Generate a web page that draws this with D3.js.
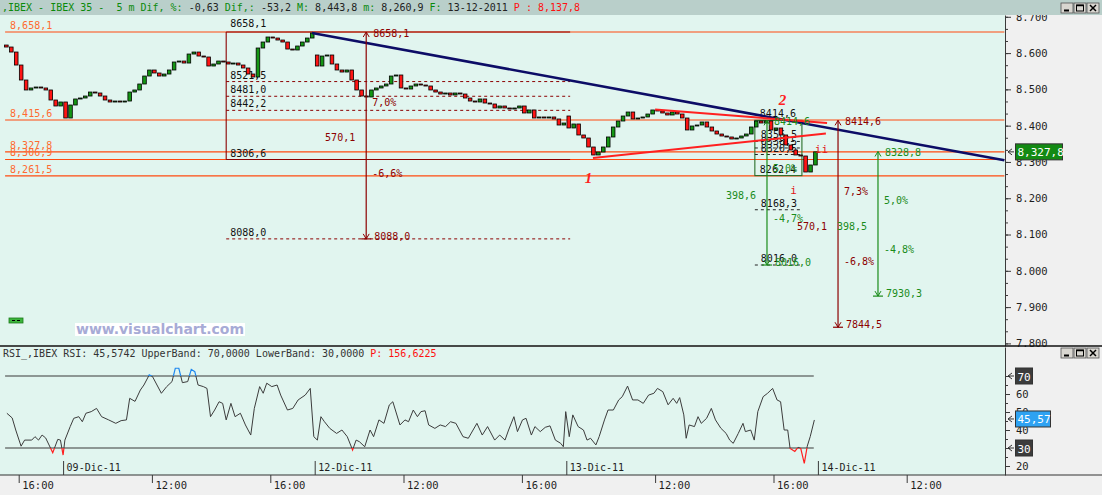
<!DOCTYPE html>
<html>
<head>
<meta charset="utf-8">
<script src="https://cdn.jsdelivr.net/npm/d3@7"></script>
<style>
  body { margin: 0; background: #f0f0f0; }
  svg { display: block; font-family: "DejaVu Sans Mono", monospace; font-size: 10px; }
</style>
</head>
<body>
<svg width="1102" height="495"></svg>
<script>
// ---------- data ----------
// x positions are trading-session hours counted from 08-Dic 16:00
var timeTicks = [0, 4.5, 8.5, 13, 17, 21.5, 25.5, 30];
var timeLabels = ["16:00", "12:00", "16:00", "12:00", "16:00", "12:00", "16:00", "12:00"];
var dateTicks = [1.5, 10, 18.5, 27];
var dateLabels = ["09-Dic-11", "12-Dic-11", "13-Dic-11", "14-Dic-11"];
var priceTicks = [7800, 7900, 8000, 8100, 8200, 8300, 8400, 8500, 8600, 8700];
var rsiTicks = [20, 30, 40, 50, 60, 70];

// 10-minute candles starting 08-Dic 15:30
var candleStart = -0.5, candleStep = 1 / 6;
var closes = [
  8616.7, 8602.9, 8567.1, 8525.8, 8498.3, 8503.8, 8506.5, 8503.8, 8498.3, 8470.7, 8454.2, 8465.2,
  8421.1, 8456.9, 8473.5, 8476.2, 8481.7, 8492.7, 8490.0, 8481.7, 8470.7, 8465.2, 8467.9, 8465.2,
  8467.9, 8492.7, 8498.3, 8514.8, 8536.8, 8553.4, 8545.1, 8536.8, 8542.3, 8553.4, 8575.4, 8578.1,
  8572.6, 8597.4, 8602.9, 8591.9, 8589.2, 8564.4, 8569.9, 8578.1, 8575.4, 8569.9, 8572.6, 8567.1,
  8558.9, 8542.3, 8534.1, 8614.0, 8630.5, 8644.3, 8641.5, 8636.0, 8630.5, 8611.2, 8608.5, 8619.5,
  8630.5, 8641.5, 8655.3,
  8564.4, 8591.9, 8594.7, 8569.9, 8553.4, 8547.8, 8553.4, 8525.8, 8498.3, 8481.7, 8479.0, 8498.3,
  8503.8, 8509.3, 8514.8, 8536.8, 8539.6, 8503.8, 8501.0, 8509.3, 8514.8, 8512.0, 8509.3, 8498.3,
  8492.7, 8487.2, 8490.0, 8484.5, 8490.0, 8487.2, 8476.2, 8467.9, 8465.2, 8473.5, 8462.4, 8459.7,
  8448.7, 8454.2, 8448.7, 8445.9, 8448.7, 8454.2, 8434.9, 8443.2, 8421.1, 8423.9, 8421.1, 8423.9,
  8418.4, 8401.8, 8407.3,
  8393.6, 8404.6, 8374.3, 8366.0, 8341.2, 8319.2, 8327.4, 8341.2, 8368.8, 8396.3, 8412.8, 8426.6,
  8437.6, 8418.4, 8421.1, 8423.9, 8432.1, 8443.2, 8440.4, 8434.9, 8429.4, 8437.6, 8432.1, 8421.1,
  8388.1, 8399.1, 8401.8, 8410.1, 8396.3, 8385.3, 8377.0, 8371.5, 8368.8, 8363.3, 8366.0, 8371.5,
  8377.0, 8396.3, 8412.8, 8407.3, 8413.0, 8388.1, 8393.6, 8374.3, 8346.7, 8332.9, 8319.2, 8316.4,
  8272.3, 8291.6, 8327.8
];
// session opens that gap away from the previous close: [candle index, open]
var gapOpens = [[0, 8622.2], [63, 8594.7], [114, 8426.6]];

var rsiPoints = [
  [-0.40, 49.3], [-0.22, 46.7], [-0.10, 40.0], [0.08, 31.0], [0.20, 34.4], [0.44, 34.4], [0.55, 36.3],
  [0.67, 34.4], [0.79, 37.2], [0.91, 35.6], [1.15, 27.4], [1.32, 34.8], [1.41, 34.4], [1.50, 26.1],
  [1.56, 34.4], [1.74, 41.9], [1.86, 46.5], [2.03, 47.4], [2.15, 44.6], [2.27, 49.3], [2.45, 50.2],
  [2.63, 52.0], [2.80, 47.4], [3.04, 45.6], [3.28, 43.7], [3.46, 45.2], [3.64, 45.6], [3.75, 57.6],
  [3.93, 55.9], [4.11, 62.2], [4.23, 65.0], [4.41, 70.6], [4.52, 69.7], [4.82, 60.4], [5.00, 64.1],
  [5.18, 66.9], [5.29, 74.3], [5.41, 74.3], [5.53, 66.3], [5.71, 66.9], [5.83, 73.7], [5.95, 72.4],
  [6.06, 65.0], [6.24, 64.1], [6.36, 63.1], [6.48, 47.4], [6.62, 51.1], [6.77, 55.7], [6.89, 54.8],
  [7.01, 45.6], [7.17, 54.8], [7.31, 47.4], [7.49, 49.3], [7.66, 42.8], [7.84, 37.2], [7.96, 52.0],
  [8.14, 64.1], [8.26, 60.4], [8.38, 66.0], [8.55, 64.1], [8.73, 65.0], [8.85, 59.4], [9.08, 51.1],
  [9.26, 52.0], [9.44, 56.7], [9.68, 59.4], [9.85, 63.1], [9.97, 36.3], [10.09, 34.4], [10.21, 47.4],
  [10.33, 44.6], [10.51, 40.9], [10.74, 38.1], [10.92, 40.0], [11.10, 36.3], [11.28, 28.9], [11.40, 34.4],
  [11.51, 33.5], [11.69, 30.7], [11.87, 40.0], [11.99, 36.3], [12.17, 45.6], [12.34, 43.7], [12.52, 53.9],
  [12.64, 55.7], [12.88, 42.8], [13.05, 45.6], [13.17, 44.6], [13.33, 51.1], [13.47, 47.4], [13.59, 50.2],
  [13.73, 50.7], [13.85, 42.8], [14.06, 40.9], [14.24, 42.8], [14.42, 41.9], [14.59, 44.6], [14.77, 43.7],
  [15.01, 36.3], [15.19, 35.4], [15.48, 43.7], [15.66, 37.2], [15.84, 41.9], [16.08, 34.4], [16.25, 37.2],
  [16.43, 34.4], [16.55, 40.0], [16.73, 47.4], [16.85, 39.1], [17.02, 45.6], [17.14, 46.5], [17.32, 37.2],
  [17.44, 41.9], [17.62, 39.1], [17.79, 41.5], [17.95, 42.3], [18.13, 34.4], [18.31, 32.6], [18.40, 30.7],
  [18.48, 50.2], [18.60, 36.3], [18.72, 48.4], [18.90, 41.9], [19.08, 40.0], [19.20, 34.4], [19.32, 35.4],
  [19.50, 31.7], [19.61, 36.3], [19.79, 45.6], [19.91, 51.1], [20.09, 51.1], [20.27, 56.7], [20.39, 58.5],
  [20.57, 64.4], [20.74, 56.7], [20.92, 56.7], [21.10, 54.8], [21.28, 59.4], [21.46, 60.4], [21.58, 63.1],
  [21.76, 61.3], [21.94, 54.0], [22.11, 57.6], [22.23, 54.8], [22.33, 58.0], [22.47, 48.4], [22.55, 35.4],
  [22.65, 42.8], [22.83, 41.9], [22.95, 47.4], [23.06, 43.7], [23.24, 46.5], [23.40, 52.0], [23.54, 45.6],
  [23.72, 41.0], [23.90, 38.1], [24.02, 34.4], [24.14, 32.6], [24.31, 38.1], [24.47, 43.7], [24.55, 39.1],
  [24.73, 40.0], [24.85, 34.4], [24.97, 50.2], [25.15, 58.5], [25.30, 60.4], [25.47, 63.1], [25.62, 56.7],
  [25.74, 55.7], [25.86, 40.0], [25.98, 40.0], [26.06, 29.8], [26.22, 28.1], [26.33, 30.4], [26.42, 29.8],
  [26.54, 21.5], [26.64, 31.0], [26.74, 36.3], [26.88, 45.57]
];
var rsiBands = [70, 30];
var rsiSpan = [-0.46, 26.86];

// horizontal price levels (left labels)
var levelLines = [8658.1, 8415.6, 8327.8, 8306.9, 8261.5];
var levelSpan = [-0.46, 33.3];

// first retracement box
var fibSpan = [7.01, 18.63];
var fibTop = 8658.1, fibBottom = 8306.6;
var fibLevels = [8521.5, 8481.0, 8442.2, 8088.0];

// second (green) box
var boxSpan = [24.87, 26.46];
var boxTop = 8414.6, boxBottom = 8262.4;
var boxLevels = [8356.5, 8338.5, 8320.5];
var boxTargets = [8168.3, 8016.0];

// vertical projections: [hour, from, to, up %, down %]
var redProj = [
  [11.74, 8658.1, 8088.0, "7,0%", "-6,6%"],
  [27.68, 8414.6, 7844.5, "7,3%", "-6,8%"]
];
var greenProj = [
  [25.28, 8414.6, 8016.0, "5,0%", "-4,7%"],
  [29.03, 8328.8, 7930.3, "5,0%", "-4,8%"]
];

var trendLine = [[9.91, 8655.3], [33.3, 8304.5]];
var wedgeUpper = [[21.5, 8444.5], [27.31, 8407.3]];
var wedgeLower = [[19.40, 8310.9], [27.27, 8378.4]];

var waveText = ["1", "2"];
var waveAt = [[19.25, 8243], [25.8, 8457]];
var subWaveText = ["i", "ii"];
var subWaveAt = [[26.18, 8213], [27.12, 8326]];

var lastPrice = 8327.8;
var lastRsi = 45.57;

// ---------- layout ----------
var W = 1102, H = 495;
var plotR = 1005;
var mainTop = 15, mainBot = 346;
var rsiTop = 347, rsiBot = 475;

var svg = d3.select("svg");

var x = d3.scaleLinear().domain([0, 30]).range([18.7, 906.7]);
var y = d3.scaleLinear().domain([8415.6, 8658.1]).range([120, 32]);
var yr = d3.scaleLinear().domain([30, 70]).range([448, 376]);

var fmt = function(v) { return v.toFixed(1).replace(".", ","); };
var fmtK = function(v) { var s = fmt(v); return s[0] + "," + s.slice(1); };

var DARKRED = "#8c0000", GREEN = "#1a8c1a", ORANGE = "#ff4a10";

function txt(g, x0, y0, s, color, anchor) {
  return g.append("text").attr("x", x0).attr("y", y0)
    .attr("fill", color).attr("text-anchor", anchor || "start").text(s);
}
function seg(g, x1, y1, x2, y2, color, w, dash) {
  return g.append("line").attr("x1", x1).attr("y1", y1).attr("x2", x2).attr("y2", y2)
    .attr("stroke", color).attr("stroke-width", w || 1)
    .attr("stroke-dasharray", dash || null);
}

// backgrounds
svg.append("rect").attr("width", W).attr("height", H).attr("fill", "#f0f0f0");
svg.append("rect").attr("x", 0).attr("y", mainTop).attr("width", plotR).attr("height", mainBot - mainTop).attr("fill", "#e1f5ef");
svg.append("rect").attr("x", 0).attr("y", rsiTop).attr("width", plotR).attr("height", rsiBot - rsiTop).attr("fill", "#e1f5ef");

var defs = svg.append("defs");
defs.append("clipPath").attr("id", "clipMain").append("rect")
  .attr("x", 0).attr("y", mainTop).attr("width", plotR).attr("height", mainBot - mainTop);
defs.append("clipPath").attr("id", "clipMid").append("rect")
  .attr("x", 0).attr("y", yr(70)).attr("width", plotR).attr("height", yr(30) - yr(70));
defs.append("clipPath").attr("id", "clipHigh").append("rect")
  .attr("x", 0).attr("y", rsiTop).attr("width", plotR).attr("height", yr(70) - rsiTop);
defs.append("clipPath").attr("id", "clipLow").append("rect")
  .attr("x", 0).attr("y", yr(30)).attr("width", plotR).attr("height", rsiBot - yr(30));

var plot = svg.append("g").attr("clip-path", "url(#clipMain)");
var under = plot.append("g");

// orange levels
levelLines.forEach(function(v) {
  seg(under, x(levelSpan[0]), y(v), x(levelSpan[1]), y(v), ORANGE, 1.1);
  txt(under, x(levelSpan[0]) + 5, y(v) - 3, fmtK(v), "#ff6a30");
});

// first retracement box
var fx0 = x(fibSpan[0]), fx1 = x(fibSpan[1]);
seg(under, fx0, y(fibTop), fx1, y(fibTop), DARKRED, 1.1);
seg(under, fx0, y(fibBottom), fx1, y(fibBottom), DARKRED, 1.1);
seg(under, fx0, y(fibTop), fx0, y(fibBottom), DARKRED, 1.1);
txt(under, fx0 + 4, y(fibTop) - 5, fmt(fibTop), "#111");
txt(under, fx0 + 4, y(fibBottom) - 3, fmt(fibBottom), "#111");
fibLevels.forEach(function(v) {
  seg(under, fx0, y(v), fx1, y(v), DARKRED, 1, "3,3");
  txt(under, fx0 + 4, y(v) - 3, fmt(v), "#111");
});

// second box
var bx0 = x(boxSpan[0]), bx1 = x(boxSpan[1]);
under.append("rect").attr("x", bx0).attr("y", y(boxTop))
  .attr("width", bx1 - bx0).attr("height", y(boxBottom) - y(boxTop))
  .attr("fill", "none").attr("stroke", "#2a6e2a").attr("stroke-width", 1.1);
txt(under, bx0 + 5, y(boxTop) - 3, fmt(boxTop), "#111");
txt(under, bx0 + 5, y(boxBottom) - 3, fmt(boxBottom), "#111");
boxLevels.concat(boxTargets).forEach(function(v) {
  seg(under, bx0, y(v), bx1, y(v), "#222", 1, "3,3");
  txt(under, bx0 + 6, y(v) - 3, fmt(v), "#111");
});

// candles
var candles = closes.map(function(c, i) {
  var gap = gapOpens.find(function(g) { return g[0] === i; });
  var o = gap ? gap[1] : closes[i - 1];
  return { t: candleStart + (i + 0.5) * candleStep, o: o, c: c };
});
plot.append("g").selectAll("rect").data(candles).join("rect")
  .attr("x", function(d) { return x(d.t) - 1.8; })
  .attr("width", 3.6)
  .attr("y", function(d) { return y(Math.max(d.o, d.c)); })
  .attr("height", function(d) { return Math.max(1, Math.abs(y(d.o) - y(d.c))); })
  .attr("fill", function(d) { return d.c >= d.o ? "#149614" : "#ff1414"; })
  .attr("stroke", "#000").attr("stroke-width", 0.8);

// trend lines
var over = plot.append("g");
var pline = d3.line().x(function(d) { return x(d[0]); }).y(function(d) { return y(d[1]); });
over.append("path").attr("d", pline(trendLine)).attr("fill", "none").attr("stroke", "#0c0c66").attr("stroke-width", 2.6);
over.append("path").attr("d", pline(wedgeUpper)).attr("fill", "none").attr("stroke", "#ff2020").attr("stroke-width", 2);
over.append("path").attr("d", pline(wedgeLower)).attr("fill", "none").attr("stroke", "#ff2020").attr("stroke-width", 2);

// projections
function projection(p, color) {
  var px = x(p[0]), yt = y(p[1]), yb = y(p[2]);
  seg(over, px, yt, px, yb, color, 1.2);
  over.append("path").attr("d", "M" + (px - 3) + "," + (yt + 5) + "L" + px + "," + yt + "L" + (px + 3) + "," + (yt + 5))
    .attr("fill", "none").attr("stroke", color);
  over.append("path").attr("d", "M" + (px - 3) + "," + (yb - 5) + "L" + px + "," + yb + "L" + (px + 3) + "," + (yb - 5))
    .attr("fill", "none").attr("stroke", color);
  seg(over, px - 5, yb, px + 5, yb, color, 1.2);
  txt(over, px + 7, yt + 5, fmt(p[1]), color);
  txt(over, px + 8, yb + 1, fmt(p[2]), color);
  txt(over, px - 11, (yt + yb) / 2 + 6, fmt(p[1] - p[2]), color, "end");
  txt(over, px + 6, yt + 0.36 * (yb - yt), p[3], color);
  txt(over, px + 6, yt + 0.70 * (yb - yt), p[4], color);
}
redProj.forEach(function(p) { projection(p, DARKRED); });
greenProj.forEach(function(p) { projection(p, GREEN); });

// wave labels
waveText.forEach(function(s, i) {
  over.append("text").attr("x", x(waveAt[i][0])).attr("y", y(waveAt[i][1]))
    .attr("fill", "#ff2020").attr("font-family", "Liberation Serif, serif")
    .attr("font-weight", "bold").attr("font-style", "italic").attr("font-size", 15)
    .attr("text-anchor", "middle").text(s);
});
subWaveText.forEach(function(s, i) {
  txt(over, x(subWaveAt[i][0]), y(subWaveAt[i][1]), s, "#e01818", "middle").attr("font-size", 11);
});

// watermark + small button
svg.append("rect").attr("x", 75).attr("y", 323).attr("width", 170).attr("height", 13).attr("fill", "#fff");
svg.append("text").attr("x", 76).attr("y", 334).attr("fill", "#a7abd6")
  .attr("font-family", "DejaVu Sans, sans-serif").attr("font-weight", "bold").attr("font-size", 14)
  .attr("textLength", 168).text("www.visualchart.com");
svg.append("rect").attr("x", 9).attr("y", 318).attr("width", 14).attr("height", 5)
  .attr("fill", "#3cb43c").attr("stroke", "#1a7a1a").attr("stroke-width", 0.8);
seg(svg, 12, 320.5, 15, 320.5, "#000", 1);
seg(svg, 17, 320.5, 20, 320.5, "#000", 1);

// ---------- RSI panel ----------
var rsiG = svg.append("g");
rsiBands.forEach(function(b) {
  seg(rsiG, x(rsiSpan[0]), yr(b), x(rsiSpan[1]), yr(b), "#3a3a3a", 1.2);
});
var rline = d3.line().x(function(d) { return x(d[0]); }).y(function(d) { return yr(d[1]); });
rsiG.append("path").attr("d", rline(rsiPoints)).attr("clip-path", "url(#clipMid)")
  .attr("fill", "none").attr("stroke", "#3c3c3c").attr("stroke-width", 1);
rsiG.append("path").attr("d", rline(rsiPoints)).attr("clip-path", "url(#clipHigh)")
  .attr("fill", "none").attr("stroke", "#1e88f0").attr("stroke-width", 1.2);
rsiG.append("path").attr("d", rline(rsiPoints)).attr("clip-path", "url(#clipLow)")
  .attr("fill", "none").attr("stroke", "#ff2020").attr("stroke-width", 1.2);

var rt = svg.append("text").attr("x", 3).attr("y", 357).attr("fill", "#333");
rt.append("tspan").text("RSI_,IBEX RSI: 45,5742 UpperBand: 70,0000 LowerBand: 30,0000 ");
rt.append("tspan").attr("fill", "#ff1010").text("P: 156,6225");

// ---------- axes ----------
function styleAxis(g) {
  g.attr("font-family", null).attr("font-size", null);
  g.selectAll("line").attr("stroke", "#3a3a3a");
  g.selectAll(".domain").attr("stroke", "#3a3a3a");
  g.selectAll("text").attr("fill", "#1e1e1e");
}

var yAxisScale = y.copy().domain([y.invert(mainBot), y.invert(mainTop)]).range([mainBot, mainTop]);
var gY = svg.append("g").attr("transform", "translate(" + plotR + ",0)")
  .call(d3.axisRight(yAxisScale).tickValues(priceTicks)
    .tickFormat(function(d) { return (d / 1000).toFixed(3); })
    .tickSize(6).tickPadding(5).tickSizeOuter(0));
styleAxis(gY);
gY.selectAll("text").attr("font-size", 10.5);
var gY2 = svg.append("g").attr("transform", "translate(" + plotR + ",0)")
  .call(d3.axisRight(yAxisScale).tickValues(d3.range(7800, 8720, 100 / 3)).tickFormat("").tickSize(3).tickSizeOuter(0));
styleAxis(gY2);
gY2.select(".domain").remove();

var yrAxisScale = yr.copy().domain([yr.invert(rsiBot), yr.invert(rsiTop)]).range([rsiBot, rsiTop]);
var gR = svg.append("g").attr("transform", "translate(" + plotR + ",0)")
  .call(d3.axisRight(yrAxisScale).tickValues(rsiTicks).tickSize(5).tickPadding(6).tickSizeOuter(0));
styleAxis(gR);
gR.selectAll("text").attr("font-size", 10.5);
var gR2 = svg.append("g").attr("transform", "translate(" + plotR + ",0)")
  .call(d3.axisRight(yrAxisScale).tickValues([25, 35, 45, 55, 65]).tickFormat("").tickSize(3).tickSizeOuter(0));
styleAxis(gR2);
gR2.select(".domain").remove();

// panel separators
seg(svg, 0, mainBot, W, mainBot, "#111", 1.5);
seg(svg, 0, rsiBot, W, rsiBot, "#333", 1.2);

// time axis
var gT = svg.append("g").attr("transform", "translate(0," + rsiBot + ")")
  .call(d3.axisBottom(x).tickValues(timeTicks)
    .tickFormat(function(d, i) { return timeLabels[i]; }).tickSize(8).tickSizeOuter(0));
styleAxis(gT);
gT.select(".domain").remove();
gT.selectAll("text").attr("text-anchor", "start").attr("x", 3).attr("y", 7).attr("dy", "0.71em").attr("font-size", 10.5);

var gD = svg.append("g").attr("transform", "translate(0," + rsiBot + ")")
  .call(d3.axisTop(x).tickValues(dateTicks)
    .tickFormat(function(d, i) { return dateLabels[i]; }).tickSize(14).tickSizeOuter(0));
styleAxis(gD);
gD.select(".domain").remove();
gD.selectAll("text").attr("text-anchor", "start").attr("x", 3).attr("y", -4).attr("dy", 0).attr("font-size", 10);

// axis value boxes
function axisBox(yc, s, bg, w) {
  svg.append("path").attr("d", "M1012," + (yc - 3) + "L1008," + yc + "L1012," + (yc + 3) + "M1008," + yc + "L1014," + yc)
    .attr("fill", "none").attr("stroke", "#333");
  svg.append("rect").attr("x", 1015.5).attr("y", yc - 8).attr("width", w).attr("height", 16)
    .attr("fill", bg).attr("stroke", "#333").attr("stroke-width", 1);
  svg.append("text").attr("x", 1017.5).attr("y", yc + 4.5).attr("fill", "#fff").attr("font-size", 11).text(s);
}
axisBox(y(lastPrice), fmtK(lastPrice), "#138a13", 47);
axisBox(yr(70), "70", "#3c3c3c", 17);
axisBox(yr(30), "30", "#3c3c3c", 17);
axisBox(yr(lastRsi) - 1, lastRsi.toFixed(2).replace(".", ","), "#2ea2f2", 35);

// ---------- title bar ----------
svg.append("rect").attr("width", W).attr("height", 15).attr("fill", "#b9cfca");
var tt = svg.append("text").attr("x", 2).attr("y", 11).attr("style", "white-space:pre");
var titleParts = [
  [",IBEX - IBEX 35 -  5 m Dif, %: ", "#0a8a0a"], ["-0,63", "#222"], [" Dif,: ", "#0a8a0a"], ["-53,2", "#222"],
  [" M: ", "#0a8a0a"], ["8,443,8", "#222"], [" m: ", "#0a8a0a"], ["8,260,9", "#222"],
  [" F: ", "#0a8a0a"], ["13-12-2011", "#222"], [" P : 8,137,8", "#ff1010"]
];
titleParts.forEach(function(p) {
  tt.append("tspan").attr("fill", p[1]).text(p[0]);
});

// window buttons
function winButtons(y0) {
  [1061, 1074, 1087].forEach(function(bx, i) {
    svg.append("rect").attr("x", bx).attr("y", y0).attr("width", 12).attr("height", 10)
      .attr("fill", "#d8d6d0").attr("stroke", "#505050").attr("stroke-width", 0.8);
    if (i === 0) seg(svg, bx + 3, y0 + 7.5, bx + 8, y0 + 7.5, "#000", 2);
    if (i === 1) {
      svg.append("rect").attr("x", bx + 2.5).attr("y", y0 + 2).attr("width", 7).attr("height", 6)
        .attr("fill", "none").attr("stroke", "#000").attr("stroke-width", 1);
      seg(svg, bx + 2.5, y0 + 2.5, bx + 9.5, y0 + 2.5, "#000", 1.5);
    }
    if (i === 2) {
      seg(svg, bx + 3, y0 + 2, bx + 9, y0 + 8, "#000", 1.5);
      seg(svg, bx + 9, y0 + 2, bx + 3, y0 + 8, "#000", 1.5);
    }
  });
}
winButtons(3);
winButtons(348);
</script>
</body>
</html>
